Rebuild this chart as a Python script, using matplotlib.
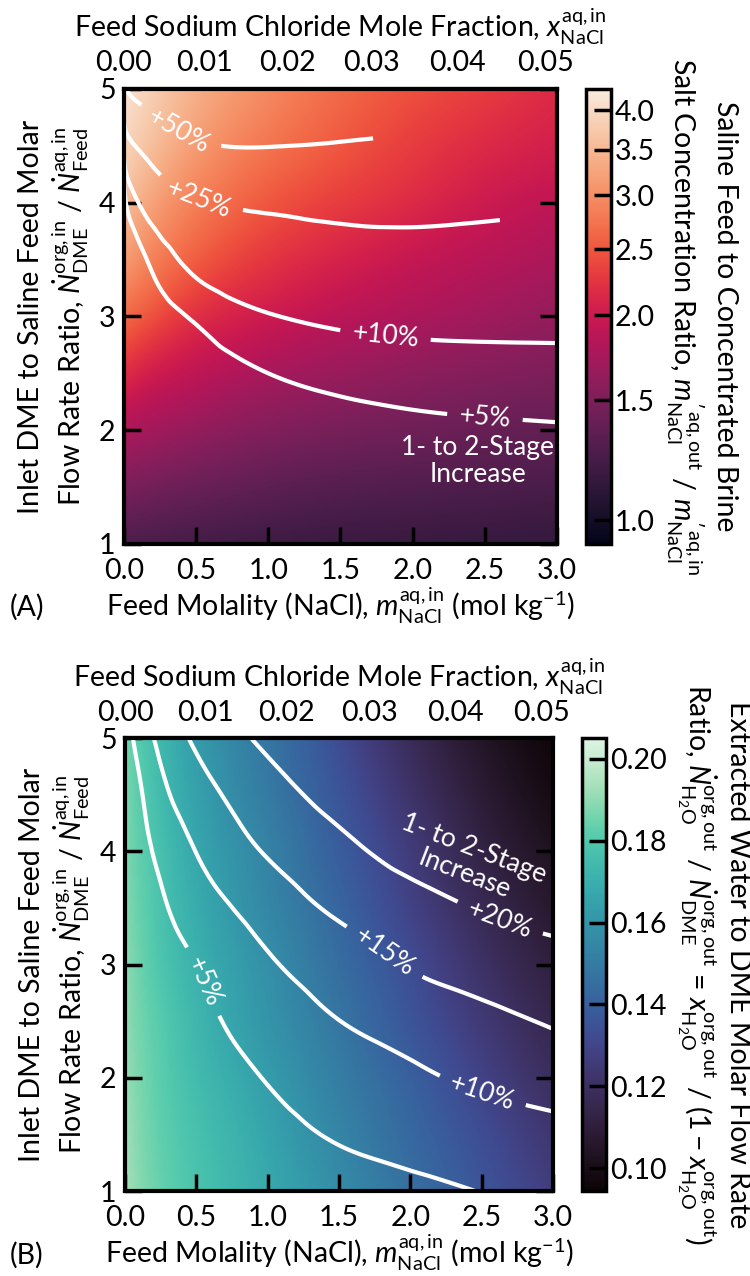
import numpy as np
import matplotlib
matplotlib.use("Agg")
import matplotlib.pyplot as plt
import matplotlib.tri as mtri
from matplotlib.colors import LogNorm, Normalize
from matplotlib.ticker import FixedLocator, FormatStrFormatter, NullLocator
import seaborn as sns

plt.rcParams['font.family'] = ['Lato', 'DejaVu Sans']
plt.rcParams['mathtext.fontset'] = 'custom'
plt.rcParams['mathtext.rm'] = 'Lato'
plt.rcParams['mathtext.it'] = 'Lato:italic'
plt.rcParams['mathtext.bf'] = 'Lato:bold'
plt.rcParams['font.size'] = 20.5

# grid the values were read on
molality = [0.0, 0.1, 0.25, 0.5, 1.0, 1.5, 2.0, 2.5, 3.0]
flow_ratio = [1.0, 1.5, 2.0, 2.5, 3.0, 3.5, 4.0, 4.5, 5.0]

# (A) brine concentration ratio, rows = flow_ratio, cols = molality
conc_ratio = [
    [1.27, 1.25, 1.24, 1.22, 1.19, 1.17, 1.16, 1.15, 1.14],
    [1.50, 1.47, 1.44, 1.40, 1.34, 1.30, 1.28, 1.26, 1.24],
    [1.80, 1.75, 1.70, 1.63, 1.53, 1.47, 1.43, 1.39, 1.36],
    [2.20, 2.10, 2.00, 1.90, 1.75, 1.66, 1.59, 1.54, 1.50],
    [2.70, 2.55, 2.40, 2.20, 2.00, 1.87, 1.78, 1.70, 1.63],
    [3.20, 3.00, 2.80, 2.55, 2.25, 2.08, 1.95, 1.85, 1.77],
    [3.70, 3.40, 3.15, 2.85, 2.50, 2.30, 2.15, 2.00, 1.90],
    [4.00, 3.75, 3.50, 3.15, 2.75, 2.50, 2.30, 2.15, 2.05],
    [4.25, 4.00, 3.75, 3.40, 2.95, 2.65, 2.45, 2.30, 2.15],
]
# (A) 1- to 2-stage increase of the concentration ratio, %
conc_gain = [
    [0.0, 0.0, 0.05, 0.1, 0.2, 0.3, 0.4, 0.45, 0.5],
    [0.0, 0.1, 0.3, 0.6, 1.2, 1.6, 1.9, 2.1, 2.2],
    [0.0, 0.3, 0.7, 1.4, 2.6, 3.4, 4.0, 4.35, 4.6],
    [0.1, 0.8, 1.6, 3.0, 5.0, 6.4, 7.2, 7.6, 7.8],
    [0.3, 1.6, 3.2, 5.7, 9.6, 11.5, 12.3, 12.5, 12.5],
    [0.8, 3.6, 7.3, 12.0, 17.0, 19.0, 19.7, 19.5, 19.0],
    [3.0, 10.0, 16.5, 23.2, 28.0, 29.8, 30.0, 28.5, 27.0],
    [14.0, 26.7, 36.5, 47.5, 50.5, 48.5, 46.0, 43.5, 41.0],
    [45.0, 59.0, 64.0, 67.5, 69.0, 68.0, 66.0, 63.0, 60.0],
]
conc_levels = [5, 10, 25, 50]

# (B) extracted water to DME ratio
water_ratio = [
    [0.196, 0.189, 0.184, 0.178, 0.168, 0.157, 0.146, 0.136, 0.127],
    [0.195, 0.188, 0.183, 0.177, 0.166, 0.154, 0.143, 0.133, 0.123],
    [0.194, 0.187, 0.182, 0.175, 0.163, 0.151, 0.140, 0.129, 0.119],
    [0.193, 0.186, 0.181, 0.173, 0.160, 0.148, 0.136, 0.125, 0.115],
    [0.192, 0.185, 0.179, 0.171, 0.158, 0.145, 0.133, 0.121, 0.111],
    [0.191, 0.184, 0.178, 0.169, 0.155, 0.142, 0.129, 0.117, 0.107],
    [0.190, 0.183, 0.177, 0.167, 0.153, 0.139, 0.126, 0.113, 0.103],
    [0.189, 0.182, 0.175, 0.165, 0.150, 0.136, 0.122, 0.109, 0.099],
    [0.188, 0.181, 0.174, 0.163, 0.148, 0.133, 0.118, 0.105, 0.096],
]
# (B) 1- to 2-stage increase of extracted water, %
water_gain = [
    [0.0, 0.1, 0.3, 0.7, 1.6, 2.6, 3.9, 5.1, 6.1],
    [0.0, 0.3, 0.8, 1.8, 3.65, 5.45, 6.8, 7.8, 8.7],
    [0.0, 0.5, 1.3, 2.8, 5.2, 7.4, 9.2, 10.8, 12.1],
    [0.0, 0.8, 2.0, 3.8, 7.1, 9.95, 12.0, 13.8, 15.4],
    [0.0, 1.5, 3.0, 5.0, 9.4, 12.6, 15.3, 17.0, 18.2],
    [0.0, 2.3, 4.3, 7.4, 12.2, 15.8, 18.2, 20.3, 22.0],
    [0.0, 3.2, 6.1, 10.1, 15.4, 18.8, 21.6, 23.7, 25.4],
    [0.0, 4.3, 8.6, 12.9, 18.1, 21.6, 24.2, 26.3, 28.0],
    [0.0, 6.9, 11.2, 15.8, 21.0, 24.5, 27.1, 29.3, 31.1],
]
water_levels = [5, 10, 15, 20]

conc_ticks = [1.0, 1.5, 2.0, 2.5, 3.0, 3.5, 4.0]
water_ticks = [0.10, 0.12, 0.14, 0.16, 0.18, 0.20]
mole_frac_ticks = [0.00, 0.01, 0.02, 0.03, 0.04, 0.05]

WATER_MOL_PER_KG = 1000 / 18.015
SAT_LIMIT = 6.3   # two-stage brine molality above which no 2-stage result


def m_to_x(m):
    return m / (m + WATER_MOL_PER_KG)


def x_to_m(x):
    return x * WATER_MOL_PER_KG / (1 - x)


# triangulate the coarse grid in sqrt(molality), the library does the smoothing
nx, ny = len(molality), len(flow_ratio)
M, R = np.meshgrid(molality, flow_ratio)
tris = []
for j in range(ny - 1):
    for i in range(nx - 1):
        k = j * nx + i
        tris.append([k, k + 1, k + nx + 1])
        tris.append([k, k + nx + 1, k + nx])
triang = mtri.Triangulation(np.sqrt(M).ravel(), R.ravel(), np.array(tris))

mf, rf = np.meshgrid(np.linspace(0, 3, 301), np.linspace(1, 5, 301))
uq = np.sqrt(np.clip(mf, 1e-12, 3 - 1e-9))
rq = np.clip(rf, 1 + 1e-9, 5 - 1e-9)


def smooth(z):
    interp = mtri.CubicTriInterpolator(triang, np.asarray(z, float).ravel(), kind='min_E')
    return np.asarray(interp(uq, rq))


fig = plt.figure(figsize=(7.5, 12.76), dpi=100)
axA = fig.add_axes([0.1653, 0.5737, 0.5773, 0.3566])
caxA = fig.add_axes([0.7813, 0.5737, 0.0333, 0.3566])
axB = fig.add_axes([0.1667, 0.0666, 0.5707, 0.3550])
caxB = fig.add_axes([0.776, 0.0666, 0.032, 0.3550])

ylab = ('Inlet DME to Saline Feed Molar\nFlow Rate Ratio, '
        r'$\dot{N}^{\mathrm{org,in}}_{\mathrm{DME}}$ / $\dot{N}^{\mathrm{aq,in}}_{\mathrm{Feed}}$')
xlab = r'Feed Molality (NaCl), $m^{\mathrm{aq,in}}_{\mathrm{NaCl}}$ (mol kg$^{-1}$)'
toplab = r'Feed Sodium Chloride Mole Fraction, $x^{\mathrm{aq,in}}_{\mathrm{NaCl}}$'


def style_axes(ax, cax):
    ax.set_xlim(0, 3)
    ax.set_ylim(1, 5)
    ax.set_xticks(np.arange(0, 3.01, 0.5))
    ax.xaxis.set_major_formatter(FormatStrFormatter('%.1f'))
    ax.set_yticks([1, 2, 3, 4, 5])
    ax.tick_params(axis='x', direction='in', length=12, width=2.5, pad=10, top=False)
    ax.tick_params(axis='y', direction='in', length=12, width=2.5, pad=6, right=True)
    for s in ax.spines.values():
        s.set_linewidth(3)
    ax.set_xlabel(xlab, labelpad=1)
    ax.set_ylabel(ylab, labelpad=6)
    sec = ax.secondary_xaxis('top', functions=(m_to_x, x_to_m))
    sec.set_xticks(mole_frac_ticks)
    sec.xaxis.set_major_formatter(FormatStrFormatter('%.2f'))
    sec.tick_params(direction='in', length=12, width=2.5, pad=9)
    sec.spines['top'].set_linewidth(3)
    sec.set_xlabel(toplab, labelpad=9)
    cax.tick_params(direction='in', length=12, width=2.5, pad=3)


def label_lines(ax, cs, spots):
    ax.clabel(cs, fmt=lambda v: f'+{v:.0f}%', inline=True, inline_spacing=12,
              fontsize=19, manual=spots)


# ---- panel A ----
conc_f = np.exp(smooth(np.log(conc_ratio)))
gainA_f = smooth(conc_gain)
rocket = sns.color_palette('rocket', as_cmap=True)
normA = LogNorm(vmin=0.923, vmax=4.3)
meshA = axA.pcolormesh(mf, rf, conc_f, cmap=rocket, norm=normA, shading='gouraud')
two_stage = mf * conc_f * (1 + gainA_f / 100)
gainA_m = np.ma.masked_where(two_stage > SAT_LIMIT, gainA_f)
csA = axA.contour(mf, rf, gainA_m, levels=conc_levels, colors='white', linewidths=3)
label_lines(axA, csA, [(0.35, 4.58), (0.52, 4.04), (1.81, 2.81), (2.50, 2.10)])
axA.text(2.45, 1.73, '1- to 2-Stage\nIncrease', color='white', fontsize=19,
         ha='center', va='center', linespacing=1.1)
style_axes(axA, caxA)
cbA = fig.colorbar(meshA, cax=caxA)
cbA.ax.yaxis.set_major_locator(FixedLocator(conc_ticks))
cbA.ax.yaxis.set_major_formatter(FormatStrFormatter('%.1f'))
cbA.ax.yaxis.set_minor_locator(NullLocator())
cbA.outline.set_linewidth(2.5)
cbA.set_label('Saline Feed to Concentrated Brine\nSalt Concentration Ratio, '
              r'$m^{\prime\,\mathrm{aq,out}}_{\mathrm{NaCl}}$ / $m^{\prime\,\mathrm{aq,in}}_{\mathrm{NaCl}}$',
              rotation=270, va='bottom', labelpad=6)

# ---- panel B ----
water_f = smooth(water_ratio)
gainB_f = smooth(water_gain)
mako = sns.color_palette('mako', as_cmap=True)
normB = Normalize(vmin=0.0945, vmax=0.205)
meshB = axB.pcolormesh(mf, rf, water_f, cmap=mako, norm=normB, shading='gouraud')
csB = axB.contour(mf, rf, gainB_f, levels=water_levels, colors='white', linewidths=3)
label_lines(axB, csB, [(0.53, 2.84), (2.50, 1.86), (1.80, 3.08), (2.62, 3.38)])
axB.text(2.41, 3.91, '1- to 2-Stage\nIncrease', color='white', fontsize=19,
         ha='center', va='center', rotation=-21, rotation_mode='anchor', linespacing=1.1)
style_axes(axB, caxB)
cbB = fig.colorbar(meshB, cax=caxB)
cbB.ax.yaxis.set_major_locator(FixedLocator(water_ticks))
cbB.ax.yaxis.set_major_formatter(FormatStrFormatter('%.2f'))
cbB.ax.yaxis.set_minor_locator(NullLocator())
cbB.outline.set_linewidth(2.5)
cbB.set_label('Extracted Water to DME Molar Flow Rate\nRatio, '
              r'$\dot{N}^{\mathrm{org,out}}_{\mathrm{H_2O}}$ / $\dot{N}^{\mathrm{org,out}}_{\mathrm{DME}}$'
              r' = $x^{\mathrm{org,out}}_{\mathrm{H_2O}}$ / $(1 - x^{\mathrm{org,out}}_{\mathrm{H_2O}})$',
              rotation=270, va='bottom', labelpad=6)

fig.text(0.013, 0.5243, '(A)', va='center', ha='left')
fig.text(0.013, 0.0165, '(B)', va='center', ha='left')

fig.savefig('out.png', dpi=100)
